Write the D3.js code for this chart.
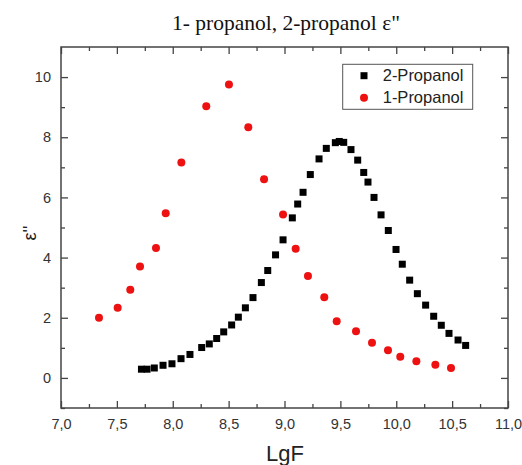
<!DOCTYPE html>
<html>
<head>
<meta charset="utf-8">
<script src="https://cdn.jsdelivr.net/npm/d3@7"></script>
<style>
  body { margin: 0; background: #fff; }
  svg { display: block; }
</style>
</head>
<body>
<svg id="chart" width="522" height="465"></svg>
<script>
// 2-Propanol (black squares)
const lgF2 = [7.72, 7.77, 7.835, 7.913, 7.993, 8.074, 8.154, 8.259, 8.327, 8.393, 8.456, 8.527, 8.587, 8.65, 8.718,
  8.793, 8.85, 8.92, 8.987, 9.07, 9.118, 9.166, 9.231, 9.309, 9.374, 9.455, 9.49, 9.53, 9.595, 9.655,
  9.709, 9.747, 9.801, 9.864, 9.929, 9.998, 10.054, 10.12, 10.189, 10.263, 10.335, 10.403, 10.472, 10.553, 10.621];
const eps2 = [0.29, 0.29, 0.33, 0.42, 0.47, 0.64, 0.78, 1.01, 1.13, 1.31, 1.53, 1.76, 2.02, 2.33, 2.67,
  3.17, 3.57, 4.09, 4.59, 5.32, 5.78, 6.17, 6.76, 7.28, 7.63, 7.82, 7.86, 7.83, 7.59, 7.24,
  6.83, 6.51, 6.00, 5.42, 4.90, 4.27, 3.78, 3.25, 2.80, 2.42, 2.05, 1.75, 1.48, 1.26, 1.08];

// 1-Propanol (red circles)
const lgF1 = [7.34, 7.507, 7.62, 7.707, 7.85, 7.937, 8.077, 8.30, 8.503, 8.676, 8.817, 8.987, 9.10, 9.21, 9.356,
  9.467, 9.64, 9.783, 9.926, 10.036, 10.18, 10.35, 10.49];
const eps1 = [2.00, 2.33, 2.93, 3.70, 4.32, 5.47, 7.16, 9.03, 9.75, 8.33, 6.60, 5.43, 4.29, 3.39, 2.68,
  1.88, 1.55, 1.17, 0.92, 0.70, 0.55, 0.44, 0.33];

const xTicks = [7, 7.5, 8, 8.5, 9, 9.5, 10, 10.5, 11];
const yTicks = [0, 2, 4, 6, 8, 10];

const svg = d3.select("#chart");
const margin = { left: 61, top: 47, right: 14, bottom: 57 };
const width = 522 - margin.left - margin.right;
const height = 465 - margin.top - margin.bottom;
const axisColor = "#444";

const x = d3.scaleLinear().domain([7, 11]).range([0, width]);
const y = d3.scaleLinear().domain([-1, 11]).range([height, 0]);

const locale = d3.formatLocale({ decimal: ",", thousands: ".", grouping: [3], currency: ["", ""] });
const fmtX = locale.format(".1f");

const g = svg.append("g").attr("transform", `translate(${margin.left},${margin.top})`);

// minor ticks
const xMinor = d3.range(7.25, 11, 0.5);
const yMinor = d3.range(-1, 11, 2);

function styleAxis(sel) {
  sel.select(".domain").remove();
  sel.selectAll("line").attr("stroke", axisColor).attr("stroke-width", 1.3);
  sel.selectAll("text").attr("fill", "#333").style("font-family", "Liberation Sans, Arial, sans-serif").style("font-size", "14.5px");
}

// bottom
g.append("g").attr("transform", `translate(0,${height})`)
  .call(d3.axisBottom(x).tickValues(xTicks).tickSizeInner(-7).tickSizeOuter(0).tickPadding(11).tickFormat(fmtX))
  .call(styleAxis);
g.append("g").attr("transform", `translate(0,${height})`)
  .call(d3.axisBottom(x).tickValues(xMinor).tickSize(-4).tickFormat(""))
  .call(styleAxis);
// top
g.append("g")
  .call(d3.axisTop(x).tickValues(xTicks).tickSize(-7).tickFormat(""))
  .call(styleAxis);
g.append("g")
  .call(d3.axisTop(x).tickValues(xMinor).tickSize(-4).tickFormat(""))
  .call(styleAxis);
// left
g.append("g")
  .call(d3.axisLeft(y).tickValues(yTicks).tickSizeInner(-7).tickSizeOuter(0).tickPadding(10).tickFormat(d3.format("d")))
  .call(styleAxis);
g.append("g")
  .call(d3.axisLeft(y).tickValues(yMinor).tickSize(-4).tickFormat(""))
  .call(styleAxis);
// right
g.append("g").attr("transform", `translate(${width},0)`)
  .call(d3.axisRight(y).tickValues(yTicks).tickSize(-7).tickFormat(""))
  .call(styleAxis);
g.append("g").attr("transform", `translate(${width},0)`)
  .call(d3.axisRight(y).tickValues(yMinor).tickSize(-4).tickFormat(""))
  .call(styleAxis);

// frame
g.append("rect")
  .attr("width", width).attr("height", height)
  .attr("fill", "none").attr("stroke", axisColor).attr("stroke-width", 1.5);

// 2-Propanol squares
const sq = 7;
g.selectAll("rect.p2")
  .data(lgF2.map((d, i) => [d, eps2[i]]))
  .join("rect")
  .attr("class", "p2")
  .attr("x", d => x(d[0]) - sq / 2)
  .attr("y", d => y(d[1]) - sq / 2)
  .attr("width", sq).attr("height", sq)
  .attr("fill", "#000");

// 1-Propanol circles
g.selectAll("circle.p1")
  .data(lgF1.map((d, i) => [d, eps1[i]]))
  .join("circle")
  .attr("class", "p1")
  .attr("cx", d => x(d[0]))
  .attr("cy", d => y(d[1]))
  .attr("r", 4)
  .attr("fill", "#ee1111");

// legend
const legend = g.append("g").attr("transform", `translate(${342.7 - margin.left},${64.3 - margin.top})`);
legend.append("rect")
  .attr("width", 130).attr("height", 45)
  .attr("fill", "#fff").attr("stroke", "#555").attr("stroke-width", 1);
legend.append("rect").attr("x", 21.3 - 3.5).attr("y", 11.4 - 3.5).attr("width", sq).attr("height", sq).attr("fill", "#000");
legend.append("circle").attr("cx", 21.3).attr("cy", 33.4).attr("r", 4).attr("fill", "#ee1111");
const legendLabels = ["2-Propanol", "1-Propanol"];
legend.selectAll("text")
  .data(legendLabels)
  .join("text")
  .attr("x", 40)
  .attr("y", (d, i) => 11.4 + i * 22)
  .attr("dy", "0.35em")
  .style("font-family", "Liberation Sans, Arial, sans-serif")
  .style("font-size", "16.5px")
  .attr("fill", "#222")
  .text(d => d);

// title
svg.append("text")
  .attr("x", 286).attr("y", 22).attr("dy", "0.35em")
  .attr("text-anchor", "middle")
  .style("font-family", "Liberation Serif, Times New Roman, serif")
  .style("font-size", "21.5px")
  .attr("fill", "#111")
  .text("1- propanol, 2-propanol ε\"");

// axis titles
svg.append("text")
  .attr("x", 285).attr("y", 453).attr("dy", "0.35em")
  .attr("text-anchor", "middle")
  .style("font-family", "Liberation Sans, Arial, sans-serif")
  .style("font-size", "22px")
  .attr("fill", "#222")
  .text("LgF");

svg.append("text")
  .attr("transform", "translate(30,233) rotate(-90)")
  .attr("dy", "0.35em")
  .attr("text-anchor", "middle")
  .style("font-family", "Liberation Sans, Arial, sans-serif")
  .style("font-size", "18px")
  .attr("fill", "#222")
  .text("ε''");
</script>
</body>
</html>
